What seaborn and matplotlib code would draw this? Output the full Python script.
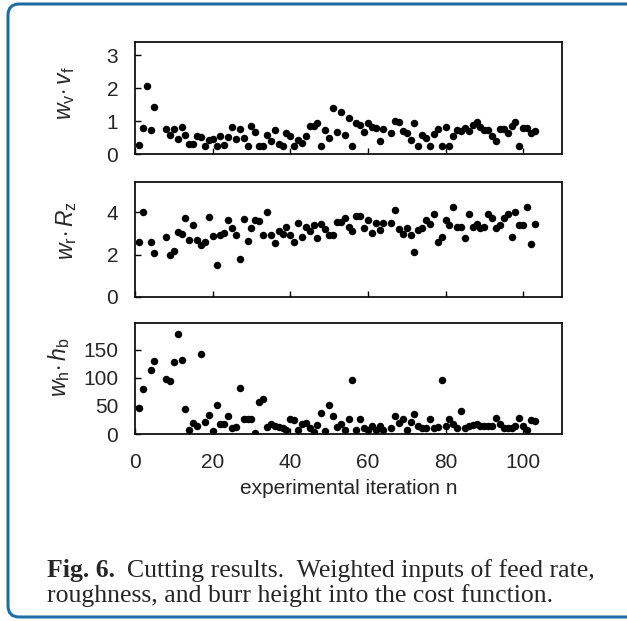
import numpy as np
import pandas as pd
import matplotlib
matplotlib.use('Agg')
import matplotlib.pyplot as plt
from matplotlib.patches import FancyBboxPatch
import seaborn as sns

# iteration numbers and weighted inputs
iter_vf = [1, 2, 3, 4, 5] + list(range(8, 65)) + list(range(66, 104))
vf = [0.27, 0.80, 2.05, 0.72, 1.43,
      0.75, 0.58, 0.77, 0.45, 0.82, 0.58, 0.30, 0.30, 0.55, 0.51,
      0.24, 0.43, 0.47, 0.24, 0.55, 0.26, 0.53, 0.82, 0.46, 0.75,
      0.48, 0.24, 0.85, 0.66, 0.24, 0.24, 0.58, 0.38, 0.73, 0.31,
      0.23, 0.63, 0.55, 0.25, 0.43, 0.33, 0.55, 0.85, 0.85, 0.93,
      0.23, 0.73, 0.50, 1.40, 0.68, 1.26, 0.58, 1.10, 0.23, 0.93,
      0.88, 0.66, 0.95, 0.82, 0.80, 0.40, 0.75,
      0.63, 1.01, 0.98, 0.70, 0.63, 0.43, 0.93, 0.25, 0.58, 0.48,
      0.25, 0.60, 0.75, 0.25, 0.81, 0.25, 0.55, 0.73, 0.71, 0.79,
      0.71, 0.88, 0.98, 0.81, 0.73, 0.73, 0.55, 0.40, 0.75, 0.75,
      0.63, 0.85, 0.96, 0.25, 0.80, 0.78, 0.63, 0.70]

iter_rz = [1, 2, 4, 5] + list(range(8, 65)) + list(range(66, 104))
rz = [2.60, 4.00, 2.57, 2.08,
      2.85, 2.00, 2.19, 3.07, 2.98, 3.70, 2.69, 3.37, 2.69, 2.47,
      2.61, 3.78, 2.88, 1.51, 2.91, 3.01, 3.62, 3.24, 2.93, 1.80,
      3.69, 2.63, 3.23, 3.65, 3.57, 2.93, 4.00, 2.93, 2.55, 3.09,
      2.96, 3.31, 2.93, 2.60, 3.48, 2.82, 3.31, 3.09, 3.39, 2.79,
      3.46, 3.21, 2.91, 2.91, 3.54, 3.54, 3.70, 3.31, 3.13, 3.83,
      3.83, 3.26, 3.64, 3.02, 3.48, 3.18, 3.50,
      3.50, 4.09, 3.21, 2.98, 3.23, 2.91, 2.13, 3.18, 3.24, 3.65,
      3.45, 3.92, 2.58, 2.83, 3.65, 3.39, 4.24, 3.28, 3.28, 2.76,
      3.89, 3.28, 3.45, 3.24, 3.28, 3.92, 3.73, 3.24, 3.39, 3.70,
      3.89, 2.82, 4.00, 3.39, 3.39, 4.25, 2.50, 3.46]

iter_hb = [1, 2, 4, 5] + list(range(8, 65)) + list(range(66, 104))
hb = [47, 81, 115, 130,
      99, 94, 129, 179, 132, 44, 8, 20, 14, 142,
      21, 34, 6, 52, 17, 17, 33, 11, 12.5, 82,
      27, 27, 27, 2, 57, 63, 12, 18, 15, 12,
      11, 7, 26, 25, 8, 17, 20, 10, 4, 16,
      37, 5, 51, 32, 12.5, 18, 8, 27, 96, 8,
      27, 11, 8, 15, 8, 15, 8,
      11, 32, 20, 26, 8, 22, 36, 14, 11, 10,
      27, 11, 13, 96, 14, 27, 17, 11, 41, 11,
      14, 16, 17, 15, 14, 14, 14, 29, 17, 11,
      10, 11, 14, 29, 14, 7, 25, 24]

ylabels = [r'$w_\mathrm{v}\!\cdot v_\mathrm{f}$',
           r'$w_\mathrm{r}\!\cdot R_\mathrm{z}$',
           r'$w_\mathrm{h}\!\cdot h_\mathrm{b}$']
yticks = [[0, 1, 2, 3], [0, 2, 4], [0, 50, 100, 150]]
ylims = [(0, 3.4), (0, 5.42), (0, 198)]
xticks = [0, 20, 40, 60, 80, 100]

sns.set_theme(style='ticks')
plt.rcParams['font.family'] = ['Liberation Sans', 'DejaVu Sans']
plt.rcParams['mathtext.fontset'] = 'custom'
plt.rcParams['mathtext.rm'] = 'Liberation Sans'
plt.rcParams['mathtext.it'] = 'Liberation Sans:italic'

fig = plt.figure(figsize=(6.27, 6.21), dpi=100)
W, H = 627, 621

# blue rounded frame (runs off the right edge)
frame = FancyBboxPatch((8 / W, 4 / H), 700 / W, 613 / H,
                       boxstyle='round,pad=0,rounding_size=0.018',
                       transform=fig.transFigure, fill=False,
                       edgecolor='#1f6ea3', linewidth=2.2, clip_on=False)
fig.patches.append(frame)

# axes rectangles in pixels: (top, bottom)
left, right = 135, 562
rows = [(42, 154), (182, 297), (323, 434)]
label_x = [-0.136, -0.13, -0.148]
label_y = [0.54, 0.58, 0.60]

panels = [(iter_vf, vf), (iter_rz, rz), (iter_hb, hb)]
for i, ((xs, ys), (top, bot)) in enumerate(zip(panels, rows)):
    ax = fig.add_axes([left / W, 1 - bot / H, (right - left) / W, (bot - top) / H])
    df = pd.DataFrame({'n': xs, 'v': ys})
    sns.scatterplot(data=df, x='n', y='v', ax=ax, color='black', s=29,
                    linewidth=0, legend=False)
    ax.set_xlim(0, 110)
    ax.set_ylim(*ylims[i])
    ax.set_yticks(yticks[i])
    ax.set_xticks(xticks)
    ax.tick_params(direction='in', length=4.5, width=1, labelsize=15,
                   color='black', pad=12)
    ax.tick_params(axis='x', pad=14)
    for sp in ax.spines.values():
        sp.set_linewidth(1.3)
        sp.set_color('#111111')
    ax.set_ylabel(ylabels[i], fontsize=16.5)
    ax.yaxis.set_label_coords(label_x[i], label_y[i])
    if i < 2:
        ax.set_xticklabels([])
        ax.set_xlabel('')
    else:
        ax.set_xlabel('experimental iteration n', fontsize=15, labelpad=5)

# caption: bold figure number followed by the plain text
cap_size = 18.5
t1 = fig.text(47 / W, 1 - 571 / H, 'Fig. 6.', fontsize=cap_size, fontweight='bold',
              family='Liberation Serif', va='center', ha='left')
fig.canvas.draw()
bb = t1.get_window_extent()
fig.text((bb.x1 + 12) / W, 1 - 571 / H, 'Cutting results.  Weighted inputs of feed rate,',
         fontsize=cap_size, family='Liberation Serif', va='center', ha='left')
fig.text(47 / W, 1 - 596 / H,
         'roughness, and burr height into the cost function.',
         fontsize=cap_size, family='Liberation Serif', va='center', ha='left')

fig.savefig('out.png', dpi=100)
